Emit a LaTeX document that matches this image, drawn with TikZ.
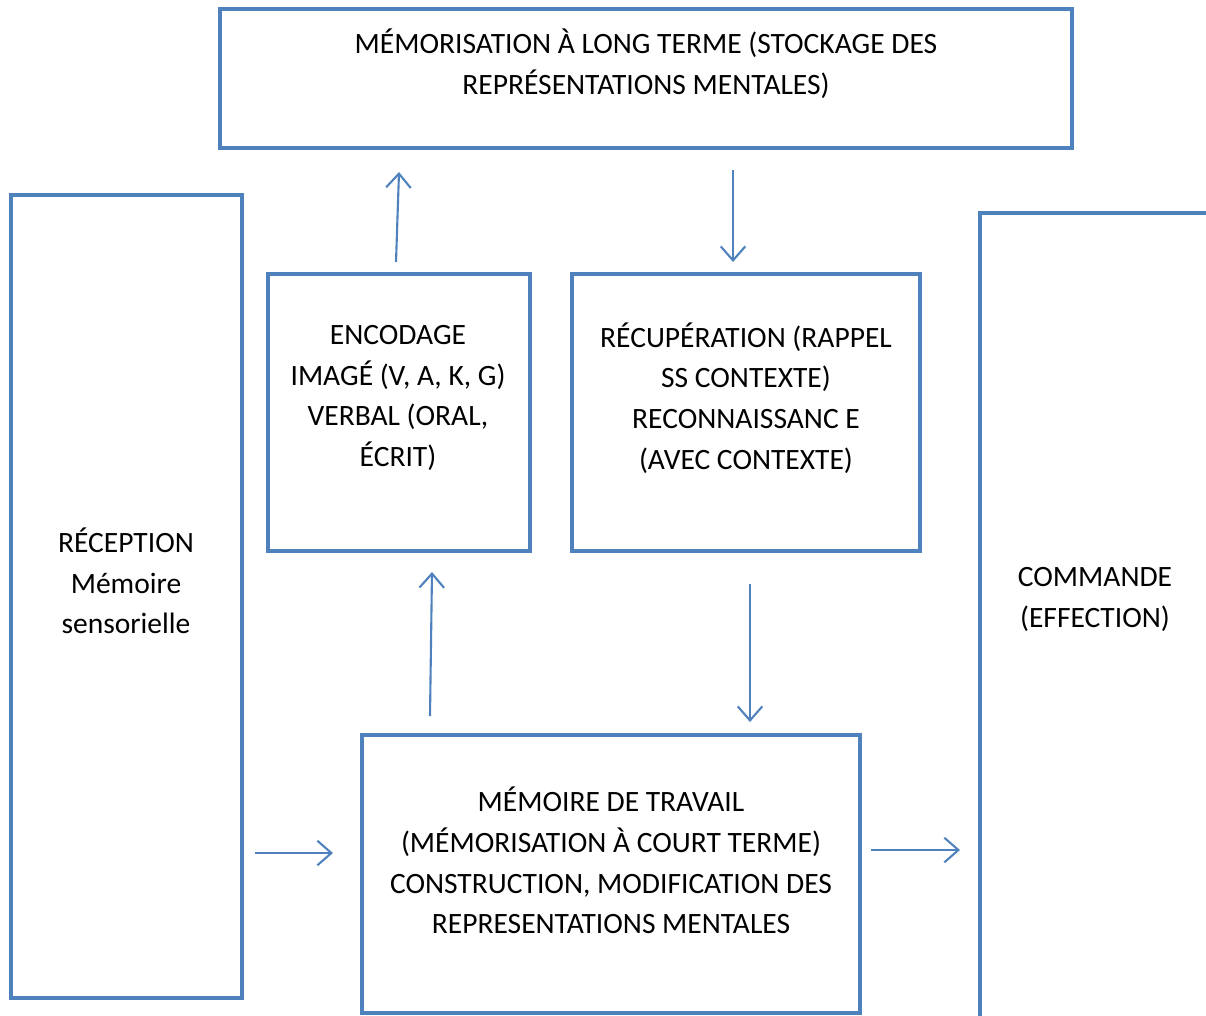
\documentclass[tikz,border=0pt]{standalone}
\usepackage{fontspec}
\setmainfont{Carlito}
\usetikzlibrary{arrows.meta}
\definecolor{boxblue}{HTML}{4F81BD}
\begin{document}
\begin{tikzpicture}[x=0.02cm,y=-0.02cm,
  box/.style={draw=boxblue,line width=2.5pt,rectangle,inner sep=0pt,outer sep=0pt},
  lbl/.style={align=center,font=\fontsize{16.8}{23.2}\selectfont,inner sep=0pt},
  arr/.style={draw=boxblue,line width=1.2pt,-{Straight Barb[length=8pt,width=14pt,line width=1.2pt]}}]
\useasboundingbox (0,0) rectangle (1206,1015);
\clip (0,0) rectangle (1206,1015);
\node[box,minimum width=17.04cm,minimum height=2.78cm] (top) at (646,78.5) {};
\node[box,minimum width=4.62cm,minimum height=16.06cm] (rec) at (126.5,596.5) {};
\node[box,minimum width=5.24cm,minimum height=5.54cm] (enc) at (399,412.5) {};
\node[box,minimum width=6.96cm,minimum height=5.54cm] (rcp) at (746,412.5) {};
\node[box,minimum width=9.96cm,minimum height=5.56cm] (mdt) at (611,874) {};
\node[box,minimum width=5.6cm,minimum height=16.94cm] (com) at (1120,636.5) {};
\node[lbl] (ttop) at (646,63.5) {MÉMORISATION À LONG TERME (STOCKAGE DES\\REPRÉSENTATIONS MENTALES)};
\node[lbl] (tenc) at (398,398) {ENCODAGE\\IMAGÉ (V, A, K, G)\\VERBAL (ORAL,\\ÉCRIT)};
\node[lbl] (trcp) at (746,398) {RÉCUPÉRATION (RAPPEL\\SS CONTEXTE)\\RECONNAISSANC E\\(AVEC CONTEXTE)};
\node[lbl] (trec) at (126,581) {RÉCEPTION\\Mémoire\\sensorielle};
\node[lbl] (tcom) at (1095,599.5) {COMMANDE\\(EFFECTION)};
\node[lbl] (tmdt) at (611,860.5) {MÉMOIRE DE TRAVAIL\\(MÉMORISATION À COURT TERME)\\CONSTRUCTION, MODIFICATION DES\\REPRESENTATIONS MENTALES};
\coordinate (a1s) at (396,262); \coordinate (a1e) at (399,172);
\coordinate (a2s) at (733,170); \coordinate (a2e) at (733,262);
\coordinate (a3s) at (430,716); \coordinate (a3e) at (432,572);
\coordinate (a4s) at (750,584); \coordinate (a4e) at (750,722);
\coordinate (a5s) at (255,853); \coordinate (a5e) at (333,853);
\coordinate (a6s) at (871,850); \coordinate (a6e) at (960,850);
\draw[arr] (a1s) -- (a1e);
\draw[arr] (a2s) -- (a2e);
\draw[arr] (a3s) -- (a3e);
\draw[arr] (a4s) -- (a4e);
\draw[arr] (a5s) -- (a5e);
\draw[arr] (a6s) -- (a6e);
\end{tikzpicture}
\end{document}
